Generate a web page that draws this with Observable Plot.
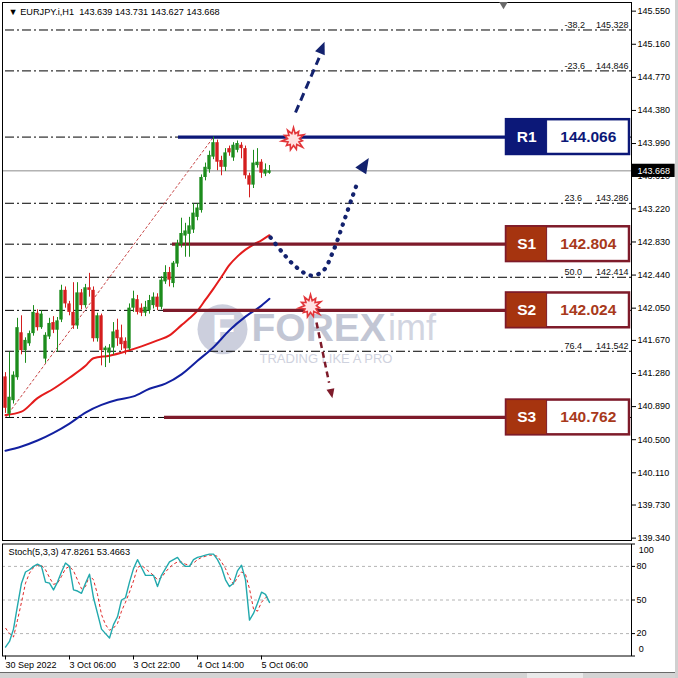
<!DOCTYPE html>
<html><head><meta charset="utf-8">
<script src="https://cdn.jsdelivr.net/npm/d3@7"></script>
<script src="https://cdn.jsdelivr.net/npm/@observablehq/plot@0.6"></script>
<style>
html,body{margin:0;padding:0;background:#fff;}
#wrap{position:relative;width:678px;height:678px;overflow:hidden;background:#fff;}
#main,#stoch{position:absolute;left:0;}
#main{top:0;} #stoch{top:543px;}
#bar{position:absolute;left:0;top:672px;width:678px;height:6px;background:#d4d4d4;border-top:1px solid #6a6a6a;}
#thumb{position:absolute;left:527px;top:673px;width:56px;height:5px;background:#eaeaea;}
#edge{position:absolute;left:675px;top:0;width:3px;height:678px;background:#d0d0d0;}
</style></head><body>
<div id="wrap"><div id="main"></div><div id="stoch"></div><div id="bar"></div><div id="thumb"></div><div id="edge"></div></div>
<script>
// ---------- DATA ----------
const symbolName = "EURJPY.i,H1";
const ohlcLast = [143.639, 143.731, 143.627, 143.668];
const open  = [141.24,140.80,140.96,141.23,141.76,141.55,141.63,141.75,141.99,141.82,141.45,141.71,141.88,141.79,141.91,142.26,142.10,142.00,141.84,142.23,142.08,142.29,142.26,141.69,141.96,141.55,141.52,141.58,141.79,141.70,141.66,141.57,142.05,142.15,142.05,141.99,142.02,142.08,142.18,142.06,142.36,142.47,142.34,142.57,142.80,142.90,142.92,142.97,143.12,143.20,143.59,143.68,143.83,144.00,143.79,143.71,143.93,143.82,143.91,143.97,143.93,143.61,143.50,143.73,143.77,143.63,143.639];
const high  = [141.29,141.53,141.30,141.93,141.96,141.70,141.78,142.08,142.03,142.02,141.76,141.93,141.95,141.94,142.32,142.30,142.13,142.35,142.35,142.27,142.33,142.46,142.30,141.99,141.98,141.60,141.62,141.88,141.92,141.85,141.70,142.10,142.25,142.20,142.10,142.13,142.20,142.23,142.22,142.42,142.55,142.53,142.60,142.85,143.11,143.05,143.12,143.28,143.28,143.62,143.76,143.90,144.066,144.03,143.84,143.93,143.96,144.00,144.02,144.00,143.96,143.64,143.91,143.93,143.80,143.75,143.731];
const low   = [140.81,140.762,140.92,141.20,141.50,141.40,141.60,141.72,141.78,141.80,141.40,141.68,141.75,141.53,141.88,142.05,141.96,141.80,141.80,142.03,142.05,142.18,141.65,141.65,141.37,141.35,141.40,141.50,141.60,141.55,141.50,141.55,142.00,141.97,141.95,141.95,141.98,142.04,142.02,142.03,142.33,142.30,142.29,142.53,142.76,142.65,142.65,142.93,143.08,143.17,143.55,143.64,143.80,143.67,143.61,143.66,143.84,143.78,143.88,143.81,143.57,143.35,143.46,143.70,143.58,143.60,143.627];
const close = [140.87,141.00,141.26,141.82,141.55,141.67,141.75,142.00,141.82,141.98,141.73,141.87,141.79,141.90,142.26,142.10,142.00,141.84,142.23,142.08,142.29,142.26,141.69,141.96,141.55,141.58,141.58,141.77,141.69,141.62,141.57,142.05,142.16,142.00,141.99,142.06,142.14,142.18,142.06,142.38,142.47,142.38,142.58,142.81,142.93,142.96,143.02,143.17,143.23,143.59,143.71,143.85,144.00,143.77,143.71,143.88,143.88,143.97,143.99,143.93,143.61,143.50,143.76,143.77,143.64,143.68,143.668];

const redMAIdx  = [0,4,8,12,16,20,22,26,30,34,38,41,44,46,48,50,52,54,56,58,60,62,64,66];
const redMA     = [140.79,140.83,140.99,141.10,141.23,141.37,141.46,141.49,141.54,141.60,141.67,141.73,141.85,141.93,142.02,142.15,142.28,142.42,142.56,142.66,142.74,142.80,142.85,142.91];
const blueMAIdx = [0,4,8,12,16,20,24,28,32,36,40,44,48,52,56,60,64,66];
const blueMA    = [140.37,140.42,140.49,140.58,140.69,140.82,140.91,140.97,141.01,141.10,141.16,141.27,141.43,141.59,141.79,141.95,142.08,142.16];

const priceTicks = [145.55,145.16,144.77,144.38,143.99,143.61,143.22,142.83,142.44,142.05,141.67,141.28,140.89,140.50,140.11,139.73,139.34];
const currentPrice = 143.668;

const fibLevelLabels = ["-38.2","-23.6","0.0","23.6","38.2","50.0","61.8","76.4","100.0"];
const fibPrices      = [145.328,144.846,144.066,143.286,142.804,142.414,142.024,141.542,140.762];
const fibAnchorIdx   = [0, 52];
const fibAnchorPrice = [140.762, 144.066];

const srNames    = ["R1","S1","S2","S3"];
const srPrices   = [144.066,142.804,142.024,140.762];
const srStartIdx = [43.25,41.75,39.5,39.75];

const upArrowIdx    = [72.5, 78.4];    const upArrowPrice   = [144.356, 145.00];
const pathArrowIdx  = [66.25,69.25,72.5,76.25,79.25,82,84.5,86.75,88.2];
const pathArrowPrice= [142.883,142.706,142.541,142.435,142.482,142.730,143.060,143.366,143.56];
const downArrowIdx  = [77.75, 80.9];   const downArrowPrice = [141.881, 141.17];
const burstIdx   = [72, 76.25];
const burstPrice = [144.038, 142.07];

const timeTickIdx    = [0,16,32,48,64];
const timeTickLabels = ["30 Sep 2022","3 Oct 06:00","3 Oct 22:00","4 Oct 14:00","5 Oct 06:00"];

const stochParams = "Stoch(5,3,3)";
const stochLast = [47.8261, 53.4663];
const stochMain = [8,13,24,45,65,75,77,80,82,80,66,65,59,66,75,83,80,59,58,56,65,73,52,38,24,20,16,28,35,50,52,66,78,86,79,72,72,72,62,72,78,84,86,88,83,80,80,86,88,89,90,91,91,86,79,68,62,65,76,81,68,32,38,47,57,55,47.8261];
const stochSignal = [25,20,17,32,48,65,74,79,81,81,77,70,64,65,71,78,80,76,68,60,62,72,68,55,37,28,23,25,29,40,48,57,67,79,81,78,75,72,68,70,75,79,82,84,84,82,81,83,86,88,89,90,90,89,84,78,70,64,70,75,73,60,42,40,48,52,53.4663];
const stochLevels = [80,50,20];
const stochTicks = [100,80,50,20,0];

const watermark = {word: "FOREX", suffix: "imf", tagline: "TRADING LIKE A PRO"};

// ---------- STYLE / LAYOUT CONSTANTS ----------
const FONT = "'Liberation Sans', Arial, sans-serif";
const xDomain = [-0.75, 156.5];
const bullC = "#1c8c1c", bearC = "#d41e1e";
const navy = "#0c1878", arrowNavy = "#13226e", maroon = "#7e1b2a", rust = "#a6340f", sText = "#a8391b";
const fmt3 = d3.format(".3f");

const bars = open.map((o, i) => ({i, o, h: high[i], l: low[i], c: close[i]}));
const bulls = bars.filter(d => d.c >= d.o), bears = bars.filter(d => d.c < d.o);
const pts = (xs, ys) => xs.map((x, k) => ({x, y: ys[k]}));
const fibs = fibPrices.map((p, k) => ({p, lab: fibLevelLabels[k]}));
const fibsShown = fibs.filter(d => !srPrices.includes(d.p));   // the others are hidden behind the S/R boxes
const srs = srNames.map((n, k) => ({n, p: srPrices[k], s: srStartIdx[k], r: n[0] === "R"}));
const boxH = 0.205;

const burstSymbol = {
  draw(ctx, size) {
    const r = Math.sqrt(size / Math.PI), n = 11;
    const outer = [1, 0.8, 0.95, 0.75, 1, 0.85, 0.9, 0.78, 1, 0.82, 0.92];
    for (let k = 0; k < 2 * n; k++) {
      const a = k * Math.PI / n - Math.PI / 2;
      const rr = k % 2 === 0 ? r * outer[(k / 2) % n] : r * 0.5;
      const px = rr * Math.cos(a), py = rr * Math.sin(a);
      if (k === 0) ctx.moveTo(px, py); else ctx.lineTo(px, py);
    }
    ctx.closePath();
  }
};
const headSymbol = {
  draw(ctx, size) {
    const r = Math.sqrt(size / Math.PI);
    ctx.moveTo(0, -1.25 * r);
    ctx.lineTo(0.8 * r, 0.65 * r);
    ctx.lineTo(-0.8 * r, 0.65 * r);
    ctx.closePath();
  }
};

const main = Plot.plot({
  width: 678, height: 541,
  marginLeft: 2, marginRight: 47, marginTop: 2, marginBottom: 1,
  style: {fontFamily: FONT, fontSize: "9px", background: "transparent", overflow: "visible", color: "#000"},
  x: {domain: xDomain, axis: null},
  y: {domain: [139.312, 145.652]},
  marks: [
    // watermark
    Plot.dot([0], {x: () => 54.25, y: () => 141.80, r: 25, fill: "#c3c7d7", fillOpacity: 0.85}),
    Plot.text([0], {x: () => 54.5, y: () => 141.80, text: () => "F", fill: "#fff", fontSize: 38, fontWeight: "bold"}),
    Plot.text([watermark], {x: () => 61.5, y: () => 141.81, text: d => d.word, textAnchor: "start", fill: "#b7bccd", fillOpacity: 0.85, fontSize: 39, fontWeight: "bold"}),
    Plot.text([watermark], {x: () => 95.6, y: () => 141.81, text: d => d.suffix, textAnchor: "start", fill: "#d2d5e1", fontSize: 36}),
    Plot.text([watermark], {x: () => 63.5, y: () => 141.45, text: d => d.tagline, textAnchor: "start", fill: "#cfd2de", fontSize: 13, letterSpacing: "1.3px"}),
    // fibonacci
    Plot.ruleY(fibs, {y: "p", x1: () => 0, x2: () => 156.5, stroke: "#000", strokeWidth: 1, strokeDasharray: "9,3,2,3"}),
    Plot.line(pts(fibAnchorIdx, fibAnchorPrice), {x: "x", y: "y", stroke: "#c84646", strokeWidth: 1, strokeDasharray: "3,2", strokeLinecap: "butt"}),
    Plot.text(fibsShown, {x: () => 139.75, y: "p", text: "lab", textAnchor: "start", dy: -5, fontSize: 9, fill: "#111"}),
    Plot.text(fibsShown, {x: () => 155.75, y: "p", text: d => fmt3(d.p), textAnchor: "end", dy: -5, fontSize: 9, fill: "#111"}),
    // current price line
    Plot.ruleY([currentPrice], {stroke: "#8c8c8c", strokeWidth: 1}),
    // moving averages
    Plot.line(pts(blueMAIdx, blueMA), {x: "x", y: "y", stroke: "#1220a0", strokeWidth: 2, curve: "monotone-x"}),
    Plot.line(pts(redMAIdx, redMA), {x: "x", y: "y", stroke: "#e41c1c", strokeWidth: 2, curve: "monotone-x"}),
    // S/R lines
    Plot.ruleY(srs, {y: "p", x1: "s", x2: () => 126, stroke: d => d.r ? navy : maroon, strokeWidth: 3.2}),
    // candles
    Plot.ruleX(bulls, {x: "i", y1: "l", y2: "h", stroke: bullC, strokeWidth: 1}),
    Plot.ruleX(bears, {x: "i", y1: "l", y2: "h", stroke: bearC, strokeWidth: 1}),
    Plot.rect(bulls, {x1: d => d.i - 0.42, x2: d => d.i + 0.42, y1: d => d.o, y2: d => Math.max(d.c, d.o + 0.012), fill: bullC}),
    Plot.rect(bears, {x1: d => d.i - 0.42, x2: d => d.i + 0.42, y1: d => d.c, y2: d => Math.max(d.o, d.c + 0.012), fill: bearC}),
    // arrows
    Plot.line(pts(upArrowIdx, upArrowPrice), {x: "x", y: "y", stroke: arrowNavy, strokeWidth: 3, strokeDasharray: "8,5", strokeLinecap: "butt"}),
    Plot.dot([0], {x: () => 79.0, y: () => 145.10, symbol: headSymbol, r: 6.5, fill: arrowNavy, rotate: 22}),
    Plot.line(pts(pathArrowIdx, pathArrowPrice), {x: "x", y: "y", stroke: arrowNavy, strokeWidth: 4.2, strokeDasharray: "0.5,7.5", strokeLinecap: "round", curve: "catmull-rom"}),
    Plot.dot([0], {x: () => 89.5, y: () => 143.72, symbol: headSymbol, r: 8, fill: arrowNavy, rotate: 32}),
    Plot.line(pts(downArrowIdx, downArrowPrice), {x: "x", y: "y", stroke: maroon, strokeWidth: 2.5, strokeDasharray: "6,4", strokeLinecap: "butt"}),
    Plot.dot([0], {x: () => 81.4, y: () => 141.06, symbol: headSymbol, r: 5, fill: maroon, rotate: 168}),
    Plot.dot(pts(burstIdx, burstPrice), {x: "x", y: "y", symbol: burstSymbol, r: 12, fill: "#ffe2e2", stroke: "#e2363a", strokeWidth: 1.6}),
    // S/R boxes
    Plot.rect(srs, {x1: () => 125.25, x2: () => 156, y1: d => d.p - boxH, y2: d => d.p + boxH, fill: "#fff", stroke: d => d.r ? navy : maroon, strokeWidth: 2.5}),
    Plot.rect(srs, {x1: () => 125.25, x2: () => 135.4, y1: d => d.p - boxH, y2: d => d.p + boxH, fill: d => d.r ? navy : rust, stroke: d => d.r ? navy : maroon, strokeWidth: 1}),
    Plot.text(srs, {x: () => 130.3, y: "p", text: "n", fill: "#fff", fontSize: 15.5, fontWeight: "bold", fontFamily: FONT}),
    Plot.text(srs, {x: () => 145.7, y: "p", text: d => fmt3(d.p), fill: d => d.r ? navy : sText, fontSize: 15.5, fontWeight: "bold", fontFamily: FONT}),
    // frame + axis
    Plot.frame({stroke: "#000", strokeWidth: 1}),
    Plot.axisY(priceTicks, {anchor: "right", tickSize: 4, tickPadding: 2, tickFormat: fmt3, fontSize: 9, label: null}),
    Plot.rect([currentPrice], {x1: () => 156.6, x2: () => 167.4, y1: d => d - 0.078, y2: d => d + 0.078, fill: "#000"}),
    Plot.text([currentPrice], {x: () => 158.0, y: d => d, text: d => fmt3(d), textAnchor: "start", fill: "#fff", fontSize: 9}),
    Plot.dot([0], {x: () => 124.5, y: () => 145.63, symbol: "triangle", r: 3.2, fill: "#6a6a6a", rotate: 180}),
    // header
    Plot.text([0], {frameAnchor: "top-left", dx: 6, dy: 6, lineAnchor: "top", textAnchor: "start", fontSize: 9.2, fill: "#000",
      text: () => `\u25BC ${symbolName}  ${ohlcLast.map(fmt3).join(" ")}`})
  ]
});
document.getElementById("main").appendChild(main);

const stoch = Plot.plot({
  width: 678, height: 135,
  marginLeft: 2, marginRight: 47, marginTop: 0.5, marginBottom: 22.5,
  style: {fontFamily: FONT, fontSize: "9px", background: "transparent", overflow: "visible", color: "#000"},
  x: {domain: xDomain},
  y: {domain: [0, 100]},
  marks: [
    Plot.ruleY(stochLevels, {stroke: "#b4b4b4", strokeWidth: 1, strokeDasharray: "3,3"}),
    Plot.line(stochSignal.map((v, i) => ({i, v})), {x: "i", y: "v", stroke: "#e02626", strokeWidth: 1, strokeDasharray: "3,2.5", strokeLinecap: "butt"}),
    Plot.line(stochMain.map((v, i) => ({i, v})), {x: "i", y: "v", stroke: "#22a9ad", strokeWidth: 1.4}),
    Plot.frame({stroke: "#000", strokeWidth: 1}),
    Plot.axisY(stochTicks, {anchor: "right", tickSize: 3, tickPadding: 2, fontSize: 9, label: null,
      tickFormat: d => (d === 100 || d === 0) ? "" : String(d)}),
    Plot.text([100], {x: () => 158.3, y: d => d, dy: 6, text: d => String(d), textAnchor: "start", fontSize: 9}),
    Plot.text([0], {x: () => 158.3, y: d => d, dy: -7, text: d => String(d), textAnchor: "start", fontSize: 9}),
    Plot.axisX(timeTickIdx, {anchor: "bottom", tickSize: 4, tickPadding: 2, textAnchor: "start", fontSize: 9, label: null,
      tickFormat: d => timeTickLabels[timeTickIdx.indexOf(d)]}),
    Plot.text([0], {frameAnchor: "top-left", dx: 6, dy: 4, lineAnchor: "top", textAnchor: "start", fontSize: 9.2, fill: "#000",
      text: () => `${stochParams} ${stochLast.map(v => v.toFixed(4)).join(" ")}`})
  ]
});
document.getElementById("stoch").appendChild(stoch);
</script>
</body></html>
